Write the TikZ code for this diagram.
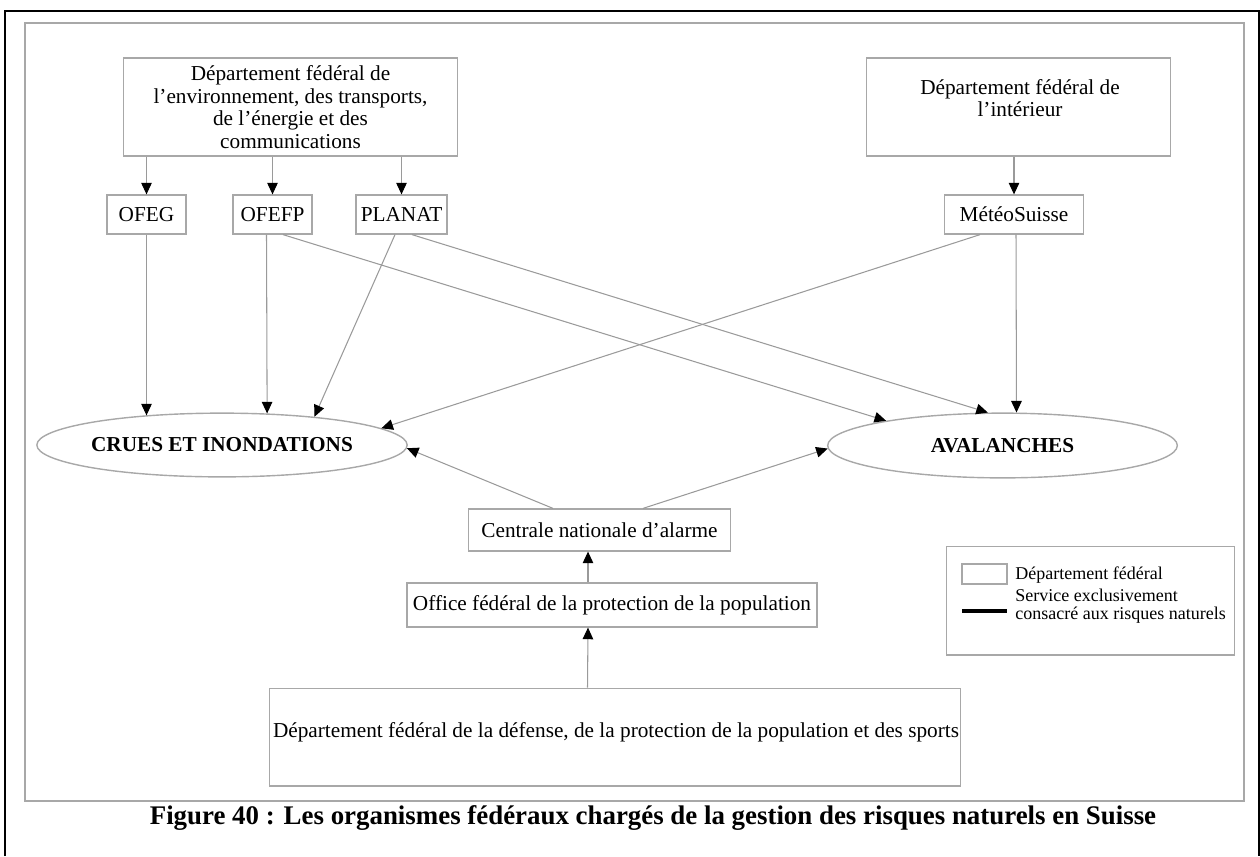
\documentclass[tikz,border=0pt]{standalone}
\usepackage{fontspec}
\setmainfont{Liberation Serif}
\usetikzlibrary{arrows.meta,shapes.geometric,calc}
\definecolor{boxgray}{HTML}{A8A8A8}
\definecolor{linegray}{HTML}{9A9A9A}
\newcommand\pxu{0.56693pt}
\begin{document}
\begin{tikzpicture}[x=0.02cm,y=-0.02cm,
  box/.style={draw=boxgray,line width=0.8pt,rectangle,inner sep=0pt,align=center,
              font=\fontsize{12.1}{12.9}\selectfont},
  txt/.style={inner sep=0pt,align=center,font=\fontsize{12.1}{12.9}\selectfont},
  ell/.style={draw=boxgray,line width=0.8pt,ellipse,inner sep=0pt,
              font=\bfseries\fontsize{12.1}{14}\selectfont},
  conn/.style={draw=linegray,line width=0.6pt,-{Triangle[length=6.6pt,width=6pt,color=black]}},
  legtxt/.style={inner sep=0pt,align=left,anchor=west,font=\fontsize{10.25}{10.6}\selectfont}]
\useasboundingbox (0,0) rectangle (1260,856);
% frames
\draw[boxgray,line width=0.8pt] (25,23) rectangle (1244,801);
\draw[black,line width=1.2pt] (5,856) -- (5,11) -- (1259,11) -- (1259,856);
% top boxes
\node[box,minimum width=335*\pxu,minimum height=98*\pxu] (dfe) at (290.5,107)
  {Département fédéral de\\ l’environnement, des transports,\\ de l’énergie et des\\ communications};
\node[box,minimum width=305*\pxu,minimum height=98*\pxu] (dfi) at (1018.5,107) {};
\node[txt] (dfitxt) at (1020,98) {Département fédéral de\\ l’intérieur};
% services
\node[box,minimum width=79*\pxu,minimum height=39*\pxu] (ofeg) at (146.5,214.5) {OFEG};
\node[box,minimum width=79*\pxu,minimum height=39*\pxu] (ofefp) at (272.5,214.5) {OFEFP};
\node[box,minimum width=91*\pxu,minimum height=39*\pxu] (planat) at (401.5,214.5) {PLANAT};
\node[box,minimum width=139*\pxu,minimum height=39*\pxu] (meteo) at (1014,214.5) {MétéoSuisse};
% ellipses
\node[ell,minimum width=358*\pxu,minimum height=64*\pxu] (crues) at (222,445) {CRUES ET INONDATIONS};
\node[ell,minimum width=351*\pxu,minimum height=65*\pxu] (aval) at (1002.5,445.5) {AVALANCHES};
% lower boxes
\node[box,minimum width=263*\pxu,minimum height=42*\pxu] (cna) at (599.5,530) {Centrale nationale d’alarme};
\node[box,minimum width=412*\pxu,minimum height=44*\pxu] (ofpp) at (612,605) {Office fédéral de la protection de la population};
\node[box,minimum width=694*\pxu,minimum height=98*\pxu] (ddps) at (615,737) {};
\node[txt] (ddpstxt) at (616,732)
  {Département fédéral de la défense, de la protection de la population et des sports};
% legend
\node[draw=boxgray,line width=0.8pt,minimum width=289*\pxu,minimum height=109*\pxu,inner sep=0pt] (leg) at (1090.5,600.5) {};
\node[draw=boxgray,line width=0.8pt,minimum width=45*\pxu,minimum height=20*\pxu,inner sep=0pt] (legbox) at (984.5,574) {};
\node[legtxt] (legt1) at (1015,575) {Département fédéral};
\coordinate (legl1) at (962,611);
\coordinate (legl2) at (1007,611);
\draw[black,line width=1.8pt] (legl1) -- (legl2);
\node[legtxt] (legt2) at (1015,606) {Service exclusivement\\ consacré aux risques naturels};
% caption
\node[inner sep=0pt,font=\bfseries\fontsize{15.3}{17}\selectfont] (cap) at (653,818)
  {Figure 40 : Les organismes fédéraux chargés de la gestion des risques naturels en Suisse};
% connectors from departments
\draw[conn] (dfe.south -| ofeg.north) -- (ofeg.north);
\draw[conn] (dfe.south -| ofefp.north) -- (ofefp.north);
\draw[conn] (dfe.south -| planat.north) -- (planat.north);
\draw[conn] (dfi.south -| meteo.north) -- (meteo.north);
% to crues
\draw[conn] (ofeg.south) -- (crues.159.1 -| ofeg.south);
\draw[conn] ($(ofefp.south)+(-6,0)$) -- (crues.35.2);
\draw[conn] ($(planat.south)+(-6.5,0)$) -- (crues.17.6);
\draw[conn] ($(meteo.south)+(-34,0)$) -- (crues.6.65);
% to avalanches
\draw[conn] ($(ofefp.south)+(10.5,0)$) -- (aval.168.9);
\draw[conn] ($(planat.south)+(10.5,0)$) -- (aval.114.1);
\draw[conn] ($(meteo.south)+(2,0)$) -- (aval.67.4);
% from centrale
\draw[conn] ($(cna.north)+(-46.5,0)$) -- (crues.-1);
\draw[conn] ($(cna.north)+(43.5,0)$) -- (aval.181);
% bottom chain
\draw[conn] ($(ofpp.north)+(-24,0)$) -- ($(cna.south)+(-11.5,0)$);
\draw[conn] ($(ddps.north)+(-27.5,0)$) -- ($(ofpp.south)+(-24,0)$);
\end{tikzpicture}
\end{document}
